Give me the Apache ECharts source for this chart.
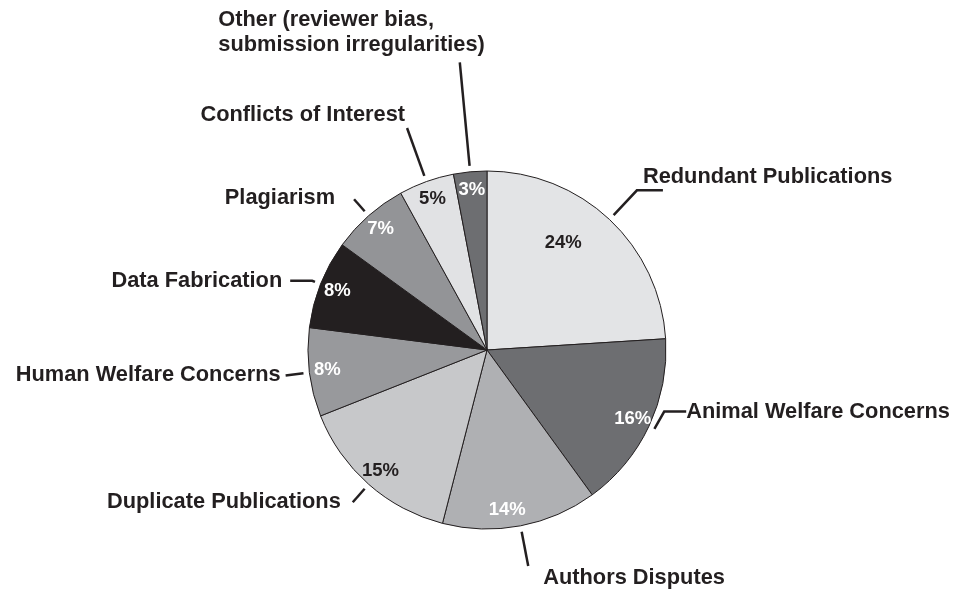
<!DOCTYPE html>
<html>
<head>
<meta charset="utf-8">
<script src="https://cdn.jsdelivr.net/npm/echarts@6/dist/echarts.min.js"></script>
<style>
  html, body { margin: 0; padding: 0; background: #fff; }
  #chart { width: 966px; height: 592px; }
</style>
</head>
<body>
<div id="chart"></div>
<script>
const categories = [
  'Redundant Publications',
  'Animal Welfare Concerns',
  'Authors Disputes',
  'Duplicate Publications',
  'Human Welfare Concerns',
  'Data Fabrication',
  'Plagiarism',
  'Conflicts of Interest',
  'Other (reviewer bias,\nsubmission irregularities)'
];
const shares = [24, 16, 14, 15, 8, 8, 7, 5, 3];

const sliceColors = ['#e3e4e6', '#6d6e71', '#afb0b3', '#c7c8ca', '#98999c', '#231f20', '#939497', '#e1e2e4', '#6d6e71'];
const pctColors = ['#231f20', '#fff', '#fff', '#231f20', '#fff', '#fff', '#fff', '#231f20', '#fff'];

// leader line tuning per slice: [length, length2, gap to text, padding]
const leader = [
  [34, 26, -20, [0, 0, 26, 0]],
  [2, 22, 8, 0],
  [35, 0, 15, [24, 0, 0, 0]],
  [18, 0, 12, 0],
  [18, 0, 5, 0],
  [3, 22, 8, 0],
  [16, 0, 19, [0, 0, 2, 0]],
  [51, 0, 2, [0, 0, 26, 0]],
  [104, 0, -25, [0, 0, 60, 0]]
];

const dark = '#231f20';
const font = "'Liberation Sans', Arial, Helvetica, sans-serif";
const nameSize = 21.8;

const chart = echarts.init(document.getElementById('chart'));

const fillData = categories.map((name, i) => ({
  name: name,
  value: shares[i],
  itemStyle: { color: sliceColors[i] }
}));

const pctData = categories.map((name, i) => ({
  name: name,
  value: shares[i],
  label: { color: pctColors[i] }
}));

const nameData = categories.map((name, i) => ({
  name: name,
  value: shares[i],
  labelLine: { length: leader[i][0], length2: leader[i][1] },
  label: { distanceToLabelLine: leader[i][2], padding: leader[i][3] }
}));

chart.setOption({
  animation: false,
  backgroundColor: '#fff',
  series: [
    {
      type: 'pie',
      center: [487, 350],
      radius: 179,
      startAngle: 90,
      clockwise: true,
      silent: true,
      label: { show: false },
      labelLine: { show: false },
      itemStyle: { borderColor: dark, borderWidth: 1 },
      emphasis: { disabled: true },
      data: fillData
    },
    {
      type: 'pie',
      center: [487, 350],
      radius: [137, 179],
      silent: true,
      itemStyle: { color: 'rgba(0,0,0,0)' },
      emphasis: { disabled: true },
      label: {
        show: true,
        position: 'inside',
        formatter: '{c}%',
        fontFamily: font,
        fontWeight: 'bold',
        fontSize: 18.5
      },
      labelLine: { show: false },
      labelLayout: function (p) {
        if (p.dataIndex === 0) {
          return {
            x: p.labelRect.x + p.labelRect.width / 2 - 34,
            y: p.labelRect.y + p.labelRect.height / 2 + 10,
            align: 'center',
            verticalAlign: 'middle'
          };
        }
        if (p.dataIndex === 2) {
          return {
            x: p.labelRect.x + p.labelRect.width / 2 - 10,
            y: p.labelRect.y + p.labelRect.height / 2 + 2,
            align: 'center',
            verticalAlign: 'middle'
          };
        }
        return {};
      },
      data: pctData
    },
    {
      type: 'pie',
      center: [487, 350],
      radius: 185,
      silent: true,
      avoidLabelOverlap: false,
      itemStyle: { color: 'rgba(0,0,0,0)' },
      emphasis: { disabled: true },
      label: {
        show: true,
        position: 'outside',
        color: dark,
        fontFamily: font,
        fontWeight: 'bold',
        fontSize: nameSize,
        lineHeight: 25,
        bleedMargin: 0,
        formatter: function (p) {
          return p.name.split('\n').map(s => '{t|' + s + '}').join('\n');
        },
        rich: {
          t: {
            align: 'left',
            color: dark,
            fontFamily: font,
            fontWeight: 'bold',
            fontSize: nameSize,
            lineHeight: 25
          }
        }
      },
      labelLine: {
        show: true,
        lineStyle: { color: dark, width: 2.5 }
      },
      labelLayout: function (p) {
        if (p.dataIndex === 1) {
          return { y: p.labelRect.y + p.labelRect.height / 2 - 18, verticalAlign: 'middle' };
        }
        return {};
      },
      data: nameData
    }
  ]
});
</script>
</body>
</html>
